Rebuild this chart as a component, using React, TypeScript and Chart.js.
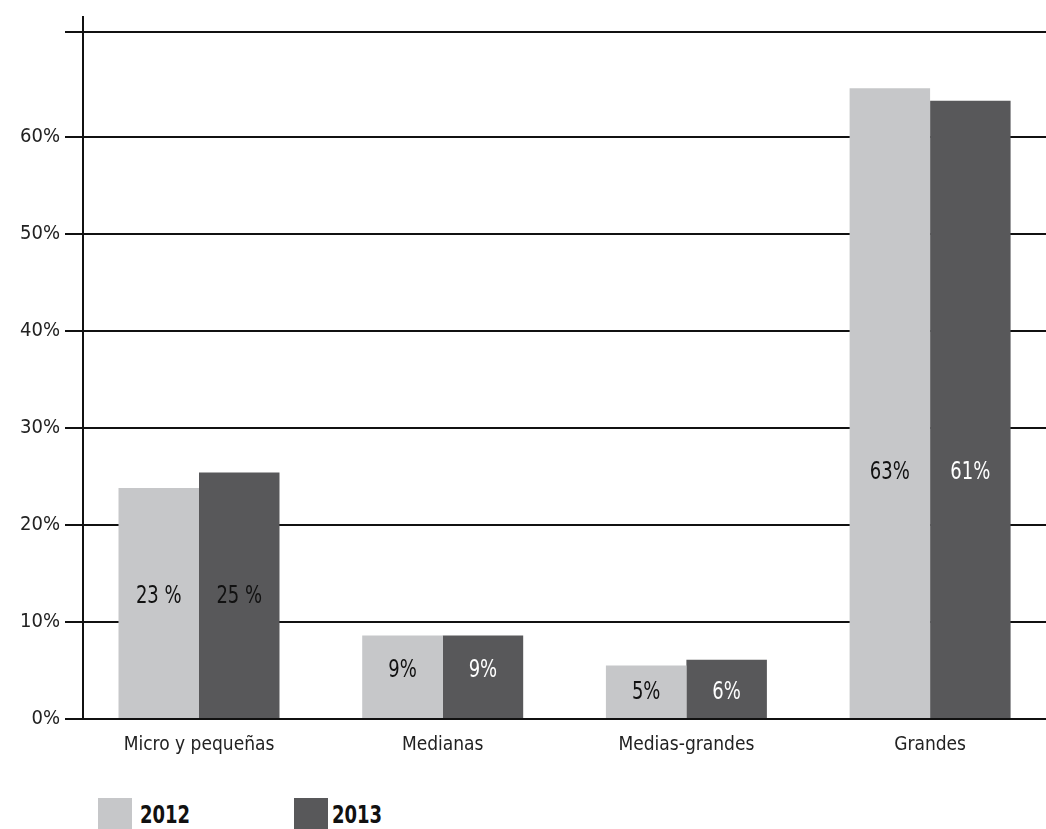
import React, { useEffect, useRef } from "react";
import { Chart, registerables } from "chart.js";

Chart.register(...registerables);

const categories = ["Micro y pequeñas", "Medianas", "Medias-grandes", "Grandes"];
const values2012 = [23.8, 8.6, 5.5, 65.0];
const values2013 = [25.4, 8.6, 6.1, 63.7];
const labels2012 = ["23 %", "9%", "5%", "63%"];
const labels2013 = ["25 %", "9%", "6%", "61%"];
const yTicks = [0, 10, 20, 30, 40, 50, 60, 70.8];
const seriesNames = ["2012", "2013"];

const FONT = "'DejaVu Sans Condensed', 'Liberation Sans', sans-serif";
const COLORS = ["#c6c7c9", "#58585a"];

const labelPlugin = {
  id: "barLabels",
  afterDatasetsDraw(chart: any, _args: any, opts: any) {
    const ctx = chart.ctx;
    const yScale = chart.scales.y;
    const sx = 0.8;
    ctx.save();
    ctx.font = `25px ${FONT}`;
    ctx.textAlign = "center";
    ctx.textBaseline = "middle";
    const texts = [labels2012, labels2013];
    chart.data.datasets.forEach((_ds: any, di: number) => {
      const meta = chart.getDatasetMeta(di);
      meta.data.forEach((bar: any, i: number) => {
        const y = yScale.getPixelForValue(opts.labelAt[i]);
        ctx.save();
        ctx.translate(bar.x, y);
        ctx.scale(sx, 1);
        ctx.fillStyle = opts.colors[di][i];
        ctx.fillText(texts[di][i], 0, 0);
        ctx.restore();
      });
    });
    ctx.restore();
  },
};

export default function App() {
  const ref = useRef<HTMLCanvasElement | null>(null);

  useEffect(() => {
    if (!ref.current) return;
    const chart = new Chart(ref.current, {
      type: "bar",
      data: {
        datasets: [
          {
            label: seriesNames[0],
            data: values2012.map((v, i) => ({ x: i, y: v })),
            backgroundColor: COLORS[0],
            borderWidth: 0,
          },
          {
            label: seriesNames[1],
            data: values2013.map((v, i) => ({ x: i, y: v })),
            backgroundColor: COLORS[1],
            borderWidth: 0,
          },
        ],
      },
      plugins: [labelPlugin],
      options: {
        animation: false,
        responsive: false,
        maintainAspectRatio: false,
        layout: { padding: { top: 12, left: 0, right: 0, bottom: 0 } },
        datasets: {
          bar: { categoryPercentage: 0.6606, barPercentage: 1, grouped: true },
        },
        plugins: {
          legend: { display: false },
          tooltip: { enabled: false },
          barLabels: {
            labelAt: [12.6, 5.0, 2.7, 25.4],
            colors: [
              ["#111", "#111", "#111", "#111"],
              ["#111", "#fff", "#fff", "#fff"],
            ],
          },
        } as any,
        scales: {
          x: {
            type: "linear",
            position: "bottom",
            min: -0.476,
            max: 3.4756,
            bounds: "data",
            offset: false,
            grid: { display: false, drawTicks: false },
            border: { display: false },
            afterBuildTicks: (s: any) => {
              s.ticks = categories.map((_, i) => ({ value: i }));
            },
            afterFit: (s: any) => {
              s.height = 61;
            },
            ticks: {
              autoSkip: false,
              maxRotation: 0,
              padding: 15,
              color: "#222",
              font: { family: FONT, size: 19 },
              callback: (v: any) => categories[v as number] ?? "",
            },
          },
          y: {
            type: "linear",
            min: 0,
            max: 72.33,
            bounds: "data",
            afterBuildTicks: (s: any) => {
              s.ticks = yTicks.map((v) => ({ value: v }));
            },
            afterFit: (s: any) => {
              s.width = 83;
            },
            grid: { color: "#111", lineWidth: 2, tickLength: 18, drawTicks: true },
            border: { display: true, color: "#111", width: 2 },
            ticks: {
              padding: 5,
              color: "#222",
              font: { family: FONT, size: 20 },
              callback: (v: any) => (v <= 60 ? `${v}%` : ""),
            },
          },
        },
      } as any,
    });
    return () => chart.destroy();
  }, []);

  const legendText: React.CSSProperties = {
    position: "absolute",
    top: 800,
    fontFamily: FONT,
    fontWeight: "bold",
    fontSize: 25,
    lineHeight: "30px",
    color: "#111",
    transform: "scaleX(0.8)",
    transformOrigin: "left center",
  };

  return (
    <div
      style={{
        position: "fixed",
        left: 0,
        top: 0,
        width: 1046,
        height: 829,
        overflow: "hidden",
        background: "#fff",
      }}
    >
      <canvas
        ref={ref}
        width={1046}
        height={780}
        style={{ position: "absolute", left: 0, top: 0, width: 1046, height: 780 }}
      />
      <div style={{ position: "absolute", left: 98, top: 798, width: 34, height: 34, background: COLORS[0] }} />
      <div style={{ ...legendText, left: 140 }}>{seriesNames[0]}</div>
      <div style={{ position: "absolute", left: 294, top: 798, width: 34, height: 34, background: COLORS[1] }} />
      <div style={{ ...legendText, left: 332 }}>{seriesNames[1]}</div>
    </div>
  );
}
